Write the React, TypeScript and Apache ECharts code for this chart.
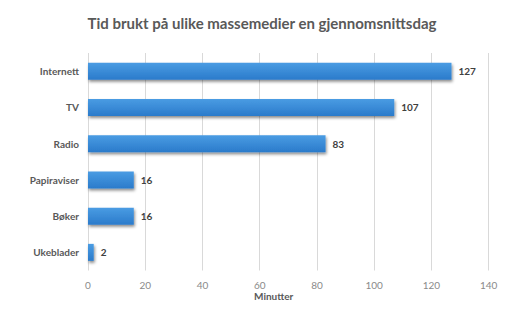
import React, { useEffect, useRef } from "react";
import * as echarts from "echarts";

const categories = ["Internett", "TV", "Radio", "Papiraviser", "Bøker", "Ukeblader"];
const minutes = [127, 107, 83, 16, 16, 2];
const titleText = "Tid brukt på ulike massemedier en gjennomsnittsdag";
const axisTitle = "Minutter";

export default function App() {
  const ref = useRef<HTMLDivElement>(null);
  useEffect(() => {
    if (!ref.current) return;
    const chart = echarts.init(ref.current, null, { renderer: "svg" });
    const font = "Lato, 'Open Sans', sans-serif";
    chart.setOption({
      animation: false,
      backgroundColor: "#ffffff",
      title: {
        text: titleText,
        left: 257,
        top: 10,
        textAlign: "center",
        textStyle: { fontFamily: font, fontSize: 15, fontWeight: "bold", color: "#595959" },
      },
      grid: { left: 88, right: 530 - 488.7, top: 53, bottom: 311 - 270.5, containLabel: false },
      xAxis: {
        type: "value",
        min: 0,
        max: 140,
        interval: 20,
        axisLine: { show: false },
        axisTick: { show: false },
        splitLine: { show: true, lineStyle: { color: "#d9d9d9", width: 1 } },
        axisLabel: { color: "#8a8a8a", fontFamily: font, fontSize: 10, margin: 9 },
      },
      yAxis: {
        type: "category",
        data: categories,
        inverse: true,
        axisLine: { show: false },
        axisTick: { show: false },
        axisLabel: { color: "#595959", fontFamily: font, fontSize: 10, fontWeight: "bold", margin: 9 },
      },
      graphic: [
        {
          type: "text",
          left: 254,
          top: 291,
          style: { text: axisTitle, fill: "#595959", font: "bold 10px " + font },
        },
      ],
      series: [
        {
          type: "bar",
          data: minutes,
          barWidth: 17,
          itemStyle: {
            color: new echarts.graphic.LinearGradient(0, 0, 0, 1, [
              { offset: 0, color: "#4a9ce3" },
              { offset: 1, color: "#2b7bcb" },
            ]),
            shadowColor: "rgba(0,0,0,0.45)",
            shadowBlur: 3,
            shadowOffsetX: 1,
            shadowOffsetY: 2,
          },
          label: {
            show: true,
            position: "right",
            distance: 7,
            color: "#404040",
            fontFamily: font,
            fontSize: 10,
            fontWeight: "bold",
          },
        },
      ],
    });
    return () => chart.dispose();
  }, []);
  return <div ref={ref} style={{ width: 530, height: 311, position: "absolute", left: 0, top: 0 }} />;
}
